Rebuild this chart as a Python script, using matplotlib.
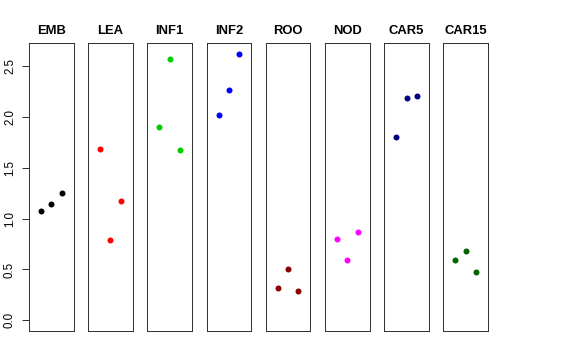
import matplotlib
matplotlib.use("Agg")
import matplotlib.pyplot as plt

plt.rcParams["font.family"] = ["Liberation Sans", "DejaVu Sans"]

# tissue panels, three replicates each
tissues = ["EMB", "LEA", "INF1", "INF2", "ROO", "NOD", "CAR5", "CAR15"]
colors = ["black", "red", "#00CD00", "blue", "#8B0000", "magenta", "#000080", "#006400"]
replicate = [1, 2, 3]
emb = [1.07, 1.14, 1.25]
lea = [1.68, 0.79, 1.17]
inf1 = [1.90, 2.57, 1.67]
inf2 = [2.02, 2.26, 2.62]
roo = [0.32, 0.50, 0.29]
nod = [0.80, 0.59, 0.87]
car5 = [1.80, 2.18, 2.20]
car15 = [0.59, 0.68, 0.47]
values = [emb, lea, inf1, inf2, roo, nod, car5, car15]
yticks = [0.0, 0.5, 1.0, 1.5, 2.0, 2.5]

ymax = 2.62
fig, axes = plt.subplots(1, 8, figsize=(8, 5), dpi=72, sharey=True)
fig.subplots_adjust(left=29 / 576, right=488 / 576, top=1 - 43 / 360,
                    bottom=1 - 331 / 360, wspace=0.33)

for i, (ax, name, col, vals) in enumerate(zip(axes, tissues, colors, values)):
    ax.plot(replicate, vals, "o", color=col, markersize=6, markeredgewidth=0)
    ax.set_xlim(-0.16, 4.16)
    ax.set_ylim(-0.04 * ymax, 1.04 * ymax)
    ax.set_title(name, fontsize=13, fontweight="bold", pad=9)
    ax.set_xticks([])
    for sp in ax.spines.values():
        sp.set_linewidth(1)
        sp.set_color("#333333")
    if i == 0:
        ax.set_yticks(yticks)
        ax.set_yticklabels([f"{t:.1f}" for t in yticks], rotation=90,
                           va="center", fontsize=11.5)
        ax.tick_params(axis="y", length=7, width=1, pad=6, color="#333333")
    else:
        ax.tick_params(axis="y", left=False, labelleft=False)

fig.savefig("out.png", dpi=72)
